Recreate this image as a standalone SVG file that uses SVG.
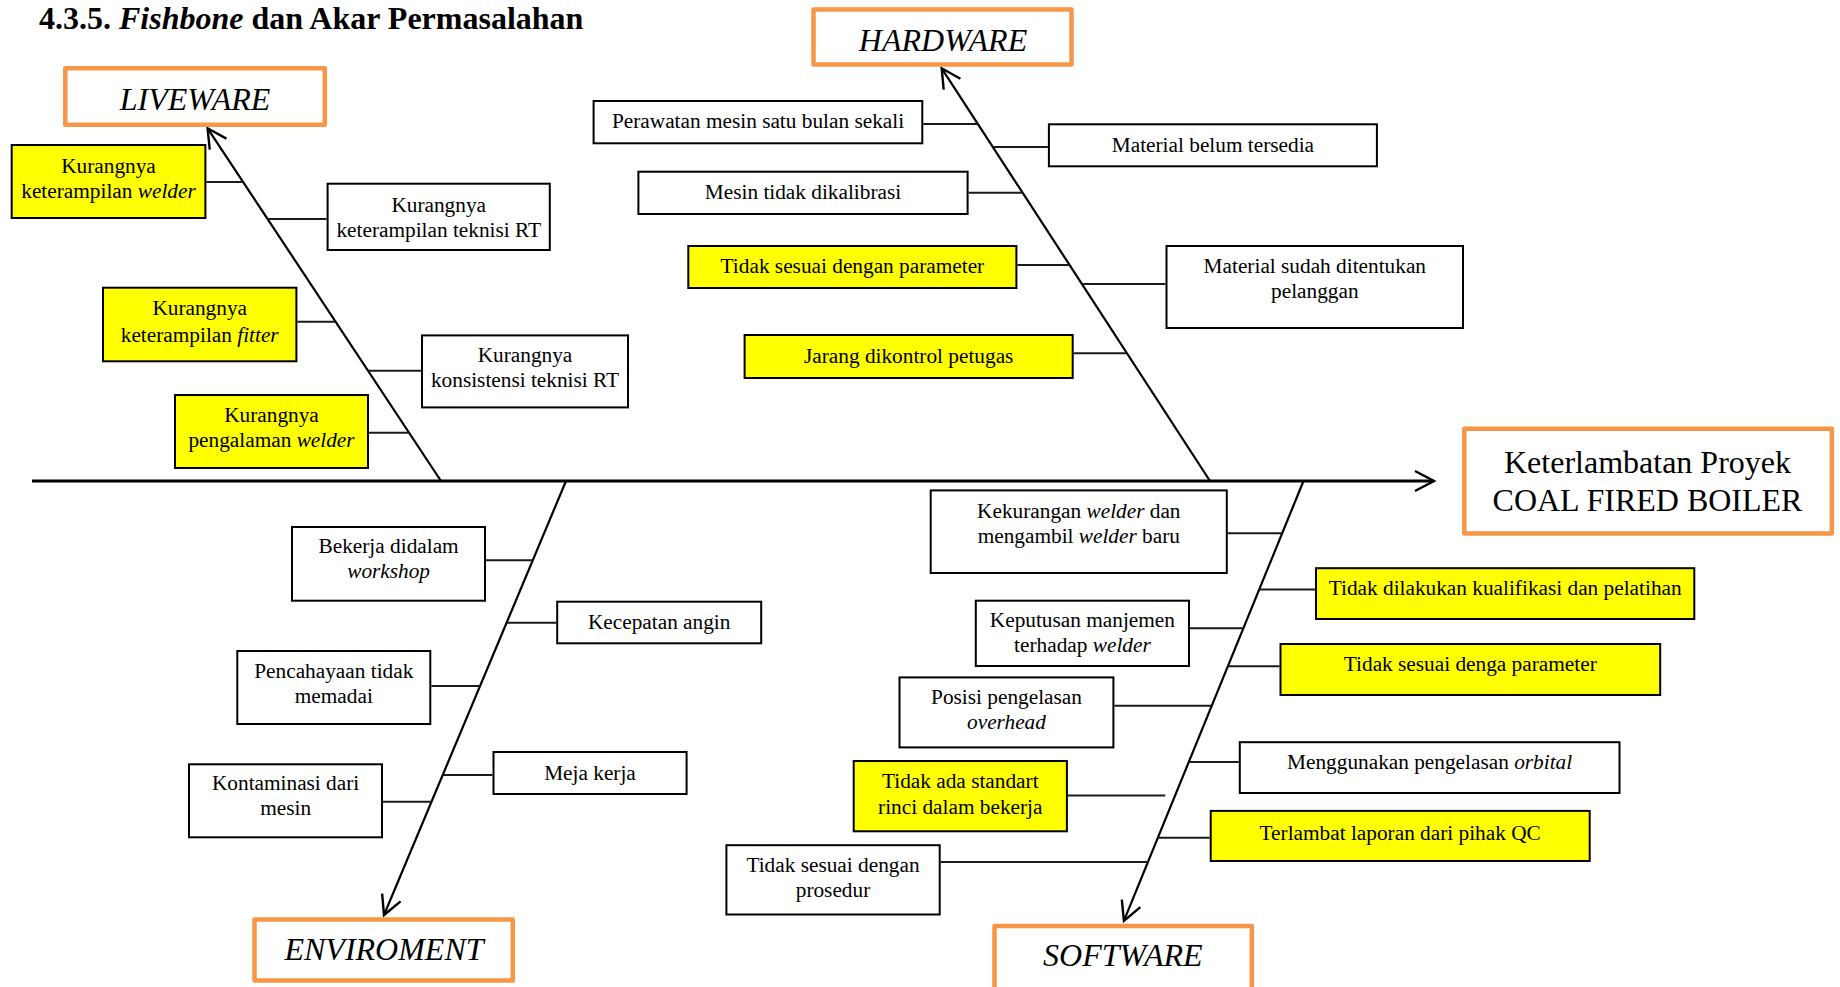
<svg xmlns="http://www.w3.org/2000/svg" width="1840" height="987" viewBox="0 0 1840 987">
<style>
.bg{fill:#ffffff}
.cat{fill:#ffffff;stroke:#F79646;stroke-width:4.5;stroke-linejoin:round}
.box{fill:#ffffff;stroke:#000000;stroke-width:2}
.ybox{fill:#FFFF00;stroke:#000000;stroke-width:2}
.t{font-family:"Liberation Serif","Times New Roman",serif;font-size:21.3px;fill:#000;text-anchor:middle}
.ct{font-family:"Liberation Serif","Times New Roman",serif;font-size:32px;font-style:italic;fill:#000;text-anchor:middle}
.mt{font-family:"Liberation Serif","Times New Roman",serif;font-size:32px;fill:#000;text-anchor:middle}
.title{font-family:"Liberation Serif","Times New Roman",serif;font-size:32px;font-weight:bold;fill:#000}
.i{font-style:italic}
.spine{stroke:#000;stroke-width:3;fill:none}
.bone{stroke:#000;stroke-width:2.2;fill:none}
.con{stroke:#1a1a1a;stroke-width:2;fill:none}
</style>
<defs>
<marker id="arr" viewBox="-22 -13 26 26" refX="0" refY="0" markerWidth="26" markerHeight="26" markerUnits="userSpaceOnUse" orient="auto" overflow="visible">
<path d="M-19,-10 L0,0 L-19,10" fill="none" stroke="#000" stroke-width="2.4"/>
</marker>
</defs>
<rect class="bg" x="0" y="0" width="1840" height="987"/>
<text class="title" x="39" y="29">4.3.5. <tspan class="i">Fishbone</tspan> dan Akar Permasalahan</text>

<g id="connectors">
<line class="spine" x1="32" y1="481" x2="1434" y2="481" marker-end="url(#arr)"/>
<line class="bone" x1="441" y1="481" x2="207.6" y2="128.3" marker-end="url(#arr)"/>
<line class="bone" x1="1210" y1="481" x2="941.7" y2="68.3" marker-end="url(#arr)"/>
<line class="bone" x1="566" y1="481" x2="384" y2="915" marker-end="url(#arr)"/>
<line class="bone" x1="1303.5" y1="481" x2="1123.9" y2="920.9" marker-end="url(#arr)"/>
<line class="con" x1="206.4" y1="182" x2="243.1" y2="182"/>
<line class="con" x1="267.6" y1="219" x2="326.6" y2="219"/>
<line class="con" x1="297.4" y1="321.7" x2="335.6" y2="321.7"/>
<line class="con" x1="368" y1="370.7" x2="421" y2="370.7"/>
<line class="con" x1="369" y1="432.7" x2="409" y2="432.7"/>
<line class="con" x1="923.3" y1="124" x2="977.9" y2="124"/>
<line class="con" x1="992.9" y1="147" x2="1047.9" y2="147"/>
<line class="con" x1="968.6" y1="192.7" x2="1022.6" y2="192.7"/>
<line class="con" x1="1017.4" y1="265" x2="1069.6" y2="265"/>
<line class="con" x1="1081.9" y1="284" x2="1165.5" y2="284"/>
<line class="con" x1="1073.7" y1="353.3" x2="1127" y2="353.3"/>
<line class="con" x1="486" y1="560.3" x2="532.7" y2="560.3"/>
<line class="con" x1="506.6" y1="622.7" x2="556.2" y2="622.7"/>
<line class="con" x1="431.3" y1="686" x2="480" y2="686"/>
<line class="con" x1="442.7" y1="775" x2="492.5" y2="775"/>
<line class="con" x1="383" y1="801.7" x2="431.5" y2="801.7"/>
<line class="con" x1="1227.8" y1="533.2" x2="1282.4" y2="533.2"/>
<line class="con" x1="1259.3" y1="589.6" x2="1315" y2="589.6"/>
<line class="con" x1="1190" y1="628.3" x2="1243.5" y2="628.3"/>
<line class="con" x1="1228" y1="666.3" x2="1279.5" y2="666.3"/>
<line class="con" x1="1114.4" y1="705.7" x2="1211.9" y2="705.7"/>
<line class="con" x1="1188.8" y1="762.1" x2="1238.8" y2="762.1"/>
<line class="con" x1="1067.9" y1="795.4" x2="1165.3" y2="795.4"/>
<line class="con" x1="1157.9" y1="837.7" x2="1209.7" y2="837.7"/>
<line class="con" x1="940.7" y1="862" x2="1148" y2="862"/>
</g>

<g id="liveware"><rect class="cat" x="65.3" y="68.3" width="259.5" height="56.5"/><text class="ct" x="195" y="110">LIVEWARE</text></g>
<g id="hardware"><rect class="cat" x="813.5" y="9.5" width="258" height="55"/><text class="ct" x="943" y="50.7">HARDWARE</text></g>
<g id="enviroment"><rect class="cat" x="254.5" y="919.5" width="258.3" height="61"/><text class="ct" x="384" y="960">ENVIROMENT</text></g>
<g id="software"><rect class="cat" x="994.5" y="926" width="257.3" height="66"/><text class="ct" x="1122.8" y="966">SOFTWARE</text></g>
<g id="effect"><rect class="cat" x="1464.3" y="428.8" width="367.5" height="104.6"/><text class="mt" x="1647.5" y="472.7">Keterlambatan Proyek</text><text class="mt" x="1647.5" y="511">COAL FIRED BOILER</text></g>

<g id="l1"><rect class="ybox" x="11.7" y="145" width="193.7" height="73"/><text class="t" x="108.5" y="172.7">Kurangnya</text><text class="t" x="108.5" y="198.3">keterampilan <tspan class="i">welder</tspan></text></g>
<g id="l2"><rect class="box" x="327.6" y="183.7" width="222.2" height="66.3"/><text class="t" x="438.7" y="211.7">Kurangnya</text><text class="t" x="438.7" y="236.7">keterampilan teknisi RT</text></g>
<g id="l3"><rect class="ybox" x="103" y="287.7" width="193.4" height="73.6"/><text class="t" x="199.7" y="315">Kurangnya</text><text class="t" x="199.7" y="341.7">keterampilan <tspan class="i">fitter</tspan></text></g>
<g id="l4"><rect class="box" x="422" y="335.4" width="206" height="72"/><text class="t" x="525" y="361.7">Kurangnya</text><text class="t" x="525" y="386.7">konsistensi teknisi RT</text></g>
<g id="l5"><rect class="ybox" x="175" y="395" width="193" height="73"/><text class="t" x="271.5" y="421.7">Kurangnya</text><text class="t" x="271.5" y="446.7">pengalaman <tspan class="i">welder</tspan></text></g>

<g id="h1"><rect class="box" x="593.6" y="101" width="328.7" height="42.3"/><text class="t" x="758" y="128.3">Perawatan mesin satu bulan sekali</text></g>
<g id="h2"><rect class="box" x="1048.9" y="124.3" width="328" height="42"/><text class="t" x="1212.9" y="151.7">Material belum tersedia</text></g>
<g id="h3"><rect class="box" x="638.4" y="171.7" width="329.2" height="42.3"/><text class="t" x="803" y="199.3">Mesin tidak dikalibrasi</text></g>
<g id="h4"><rect class="ybox" x="688.3" y="246" width="328.1" height="42"/><text class="t" x="852.4" y="272.7">Tidak sesuai dengan parameter</text></g>
<g id="h5"><rect class="box" x="1166.5" y="246" width="296.5" height="82"/><text class="t" x="1314.8" y="272.7">Material sudah ditentukan</text><text class="t" x="1314.8" y="297.7">pelanggan</text></g>
<g id="h6"><rect class="ybox" x="744.6" y="335" width="328.1" height="43"/><text class="t" x="908.7" y="362.7">Jarang dikontrol petugas</text></g>

<g id="e1"><rect class="box" x="292" y="527" width="193" height="73.7"/><text class="t" x="388.6" y="553.3">Bekerja didalam</text><text class="t i" x="388.6" y="578.3">workshop</text></g>
<g id="e2"><rect class="box" x="557.2" y="601.7" width="204" height="41.6"/><text class="t" x="659.2" y="629">Kecepatan angin</text></g>
<g id="e3"><rect class="box" x="237.3" y="651" width="193" height="73"/><text class="t" x="333.8" y="677.7">Pencahayaan tidak</text><text class="t" x="333.8" y="702.7">memadai</text></g>
<g id="e4"><rect class="box" x="493.5" y="752" width="193.1" height="42"/><text class="t" x="590" y="780">Meja kerja</text></g>
<g id="e5"><rect class="box" x="189" y="764.3" width="193" height="73"/><text class="t" x="285.6" y="790">Kontaminasi dari</text><text class="t" x="285.6" y="815">mesin</text></g>

<g id="s1"><rect class="box" x="930.7" y="490.4" width="296.1" height="82.6"/><text class="t" x="1078.8" y="517.6">Kekurangan <tspan class="i">welder</tspan> dan</text><text class="t" x="1078.8" y="543">mengambil <tspan class="i">welder</tspan> baru</text></g>
<g id="s2"><rect class="ybox" x="1316" y="568.2" width="378.3" height="50.8"/><text class="t" x="1505.2" y="595.4">Tidak dilakukan kualifikasi dan pelatihan</text></g>
<g id="s3"><rect class="box" x="975.8" y="600.7" width="213.2" height="65.3"/><text class="t" x="1082.4" y="626.9">Keputusan manjemen</text><text class="t" x="1082.4" y="652.2">terhadap <tspan class="i">welder</tspan></text></g>
<g id="s4"><rect class="ybox" x="1280.5" y="644" width="379.7" height="51"/><text class="t" x="1470.3" y="671.4">Tidak sesuai denga parameter</text></g>
<g id="s5"><rect class="box" x="899.5" y="677.4" width="213.9" height="70"/><text class="t" x="1006.5" y="703.9">Posisi pengelasan</text><text class="t i" x="1006.5" y="729.2">overhead</text></g>
<g id="s6"><rect class="box" x="1239.8" y="742.2" width="379.7" height="50.8"/><text class="t" x="1429.6" y="769">Menggunakan pengelasan <tspan class="i">orbital</tspan></text></g>
<g id="s7"><rect class="ybox" x="853.7" y="761" width="213.2" height="70.3"/><text class="t" x="960.3" y="788.2">Tidak ada standart</text><text class="t" x="960.3" y="813.5">rinci dalam bekerja</text></g>
<g id="s8"><rect class="ybox" x="1210.7" y="810.9" width="379" height="50.1"/><text class="t" x="1400.2" y="839.5">Terlambat laporan dari pihak QC</text></g>
<g id="s9"><rect class="box" x="726.4" y="845.2" width="213.3" height="69.3"/><text class="t" x="833" y="872">Tidak sesuai dengan</text><text class="t" x="833" y="897.4">prosedur</text></g>
</svg>
